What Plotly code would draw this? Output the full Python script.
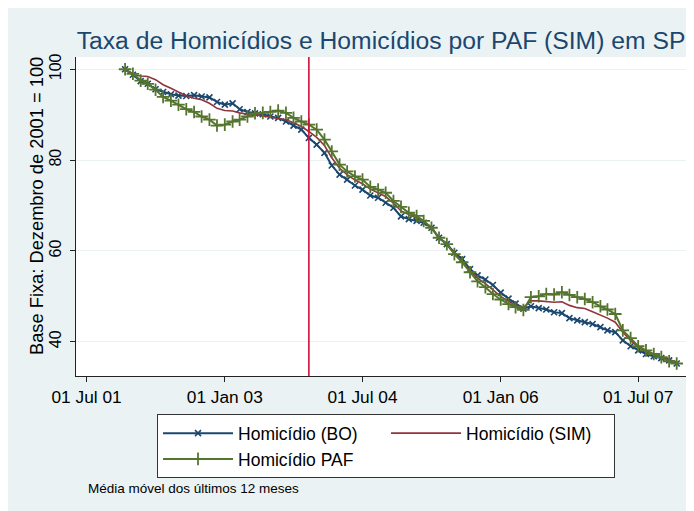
import pandas as pd
import plotly.graph_objects as go

# Monthly series, Dec 2001 .. Dec 2007 (base Dec 2001 = 100), 12-month moving average
months = pd.date_range("2001-12-01", periods=73, freq="MS")

bo = [100.0, 98.8, 97.4, 96.8, 95.6, 95.0, 94.5, 94.2, 94.1, 94.3, 94.0, 93.8,
      92.8, 92.2, 92.5, 91.2, 90.6, 90.3, 90.1, 89.6, 89.3, 88.5, 87.6, 86.7,
      84.9, 83.4, 81.6, 78.8, 76.8, 75.7, 74.4, 73.5, 72.2, 71.7, 70.6, 69.5,
      67.6, 67.0, 66.6, 66.2, 65.1, 62.9, 61.5, 59.6, 58.2, 56.0, 54.6, 53.7,
      52.5, 50.8, 49.5, 48.4, 47.3, 47.8, 47.4, 47.1, 46.5, 46.3, 45.2, 44.7,
      44.3, 43.9, 43.2, 42.5, 42.1, 40.3, 39.0, 38.1, 37.3, 36.8, 36.4, 35.9,
      35.2]

sim = [100.0, 98.8, 98.5, 98.4, 97.7, 96.6, 95.8, 94.9, 94.1, 93.6, 93.3, 92.5,
       91.4, 90.9, 90.8, 90.4, 90.1, 90.0, 89.7, 89.4, 89.1, 88.9, 88.2, 87.4,
       86.3, 85.0, 83.2, 80.5, 78.2, 76.8, 75.6, 74.8, 73.6, 72.8, 72.0, 70.5,
       68.8, 68.0, 67.3, 66.5, 65.0, 62.9, 61.4, 59.4, 57.7, 55.6, 54.0, 52.8,
       51.4, 50.0, 48.9, 48.1, 47.5, 49.0, 49.0, 48.9, 48.7, 48.8, 48.0, 47.5,
       47.3, 46.6, 45.9, 45.2, 44.3, 42.1, 40.3, 38.8, 37.8, 37.1, 36.6, 36.1,
       35.5]

paf = [100.0, 99.0, 97.5, 96.8, 95.5, 93.9, 93.1, 92.2, 91.2, 90.6, 89.6, 88.9,
       87.6, 87.8, 88.5, 88.9, 89.6, 90.3, 90.4, 90.6, 90.9, 90.4, 89.3, 88.5,
       87.8, 86.7, 84.5, 81.9, 79.0, 77.5, 76.4, 75.7, 74.1, 73.5, 72.8, 71.0,
       69.7, 68.4, 67.7, 66.6, 65.1, 62.9, 61.5, 59.3, 57.5, 55.3, 53.3, 52.0,
       50.5, 49.3, 48.3, 47.6, 47.0, 49.8, 50.0, 50.5, 50.4, 50.9, 50.3, 49.8,
       49.4, 48.7, 47.8, 47.1, 46.1, 42.5, 40.8, 39.0, 38.1, 37.3, 36.6, 35.7,
       35.2]

x_tick_vals = ["2001-07-01", "2003-01-01", "2004-07-01", "2006-01-01", "2007-07-01"]
x_tick_text = ["01 Jul 01", "01 Jan 03", "01 Jul 04", "01 Jan 06", "01 Jul 07"]
y_tick_vals = [40, 60, 80, 100]
marker_date = "2003-12-01"

NAVY = "#1a476f"
MAROON = "#90353b"
GREEN = "#55752f"
BG = "#eaf2f3"
FONT = "Liberation Sans, Arial, sans-serif"

fig = go.Figure()
fig.add_trace(go.Scatter(
    x=months, y=bo, name="Homicídio (BO)", mode="lines+markers",
    line=dict(color=NAVY, width=2),
    marker=dict(symbol="x-thin", size=6, color=NAVY, line=dict(color=NAVY, width=1.6)),
))
fig.add_trace(go.Scatter(
    x=months, y=sim, name="Homicídio (SIM)", mode="lines",
    line=dict(color=MAROON, width=1.6),
))
fig.add_trace(go.Scatter(
    x=months, y=paf, name="Homicídio PAF", mode="lines+markers",
    line=dict(color=GREEN, width=2),
    marker=dict(symbol="cross-thin", size=9, color=GREEN, line=dict(color=GREEN, width=1.8)),
))

fig.add_shape(type="line", xref="x", yref="paper", x0=marker_date, x1=marker_date,
              y0=0, y1=1, line=dict(color="#d0103a", width=1.6))

fig.add_annotation(text="Base Fixa: Dezembro de 2001 = 100", textangle=-90,
                   xref="paper", yref="paper", x=-0.0639, y=0.533,
                   xanchor="center", yanchor="middle", showarrow=False,
                   font=dict(size=18.3, color="black", family=FONT))

fig.add_annotation(text="Média móvel dos últimos 12 meses", xref="paper", yref="paper",
                   x=0.0164, y=-0.354, xanchor="left", yanchor="middle",
                   showarrow=False, font=dict(size=13.5, color="black", family=FONT))

fig.update_layout(
    width=694, height=511,
    margin=dict(l=68, r=16, t=49, b=143),
    paper_bgcolor=BG, plot_bgcolor="white",
    font=dict(family=FONT, color="black", size=17),
    title=dict(text="Taxa de Homicídios e Homicídios por PAF (SIM) em SP",
               x=0.5, xref="paper", xanchor="center",
               y=0.936, yref="container", yanchor="middle",
               font=dict(size=24.7, color=NAVY, family=FONT)),
    showlegend=True,
    legend=dict(orientation="h", x=0.1328, y=-0.12, xanchor="left", yanchor="top",
                bgcolor="white", bordercolor="#333333", borderwidth=1,
                font=dict(size=17.5, color="black", family=FONT),
                entrywidth=143, itemwidth=70, traceorder="normal"),
    xaxis=dict(type="date", range=["2001-05-20", "2008-01-07"],
               tickvals=x_tick_vals, ticktext=x_tick_text,
               showgrid=False, zeroline=False, automargin=False,
               showline=True, linecolor="#222222", linewidth=1,
               ticks="outside", ticklen=5, tickcolor="#222222",
               tickfont=dict(size=17.3)),
    yaxis=dict(range=[32.45, 102.7], tickvals=y_tick_vals, tickangle=-90,
               showgrid=True, gridcolor=BG, gridwidth=1.2, zeroline=False,
               automargin=False,
               showline=True, linecolor="#222222", linewidth=1,
               ticks="outside", ticklen=5, tickcolor="#222222",
               ticklabelstandoff=3,
               tickfont=dict(size=16)),
)

fig.write_html("out.html")
